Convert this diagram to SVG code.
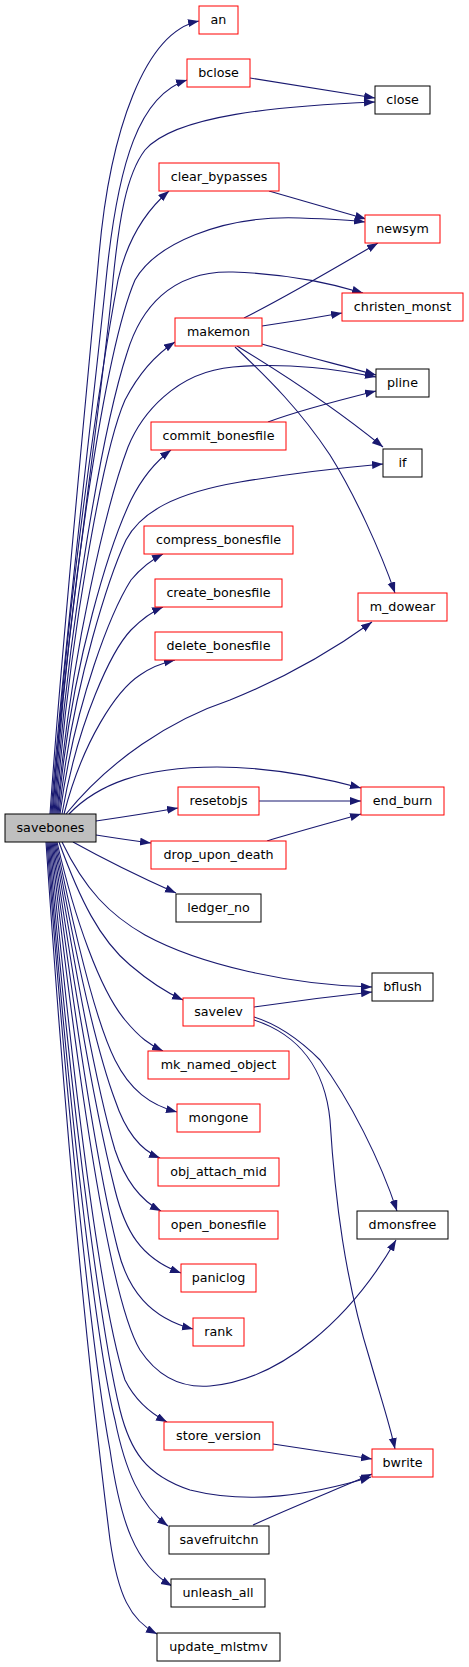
<svg xmlns="http://www.w3.org/2000/svg" width="469" height="1667" viewBox="0 0 469 1667">
<defs>
<marker id="ah" markerUnits="userSpaceOnUse" markerWidth="12" markerHeight="9" refX="11" refY="4" orient="auto" viewBox="0 0 12 9">
<path d="M0,0 L11,4 L0,8 z" fill="#191970"/>
</marker>
<style>
.e{fill:none;stroke:#191970;stroke-width:1.1;marker-end:url(#ah)}
.r{fill:#ffffff;stroke:#ff0000;stroke-width:1}
.b{fill:#ffffff;stroke:#000000;stroke-width:1}
.s{fill:#bfbfbf;stroke:#000000;stroke-width:1}
text{font-family:"DejaVu Sans","Liberation Sans",sans-serif;font-size:12.7px;fill:#000;text-anchor:middle}
</style>
</defs>
<rect width="469" height="1667" fill="#ffffff"/>
<g id="edges">
<path class="e" d="M50,814 C62,640 88,380 99,255 S145,32 199,21"/>
<path class="e" d="M51,814 C63,650 94,400 106,280 S140,95 187,80"/>
<path class="e" d="M52,814 C64,650 102,400 113,280 C119,220 126,175 145,150 C175,115 280,106 375,102"/>
<path class="e" d="M53,814 C66,600 103,360 118,280 C126,245 141,215 169,191"/>
<path class="e" d="M54,814 C68,600 105,350 135,280 C155,245 220,215 300,218 C330,219 350,220 365,222"/>
<path class="e" d="M55,814 C68,620 105,420 127,353 C140,310 170,270 233,272 C290,274 330,283 363,293"/>
<path class="e" d="M56,814 C69,640 103,450 125,400 C138,375 155,355 175,342"/>
<path class="e" d="M57,814 C71,650 108,500 128,447 C141,415 175,372 233,367 C290,362 340,370 376,377"/>
<path class="e" d="M58,814 C71,660 112,540 131,500 C141,480 155,462 171,450"/>
<path class="e" d="M59,814 C73,680 112,570 126,540 C141,512 175,493 240,482 C300,472 350,467 383,464"/>
<path class="e" d="M60,814 C75,700 112,610 131,580 C141,568 151,560 163,554"/>
<path class="e" d="M62,814 C78,720 112,650 131,630 C141,620 151,612 163,607"/>
<path class="e" d="M64,814 C83,740 117,690 140,675 C150,668 162,663 175,660"/>
<path class="e" d="M66,814 C110,760 170,720 230,700 C290,676 340,645 372,622"/>
<path class="e" d="M69,814 C97,785 140,767 217,767 C270,767 320,777 361,788"/>
<path class="e" d="M96,821 C130,816 155,812 178,808"/>
<path class="e" d="M96,835 C115,838 135,841 151,843"/>
<path class="e" d="M73,842 C100,857 140,877 176,893"/>
<path class="e" d="M62,842 C85,890 110,915 145,935 C200,965 290,985 372,987"/>
<path class="e" d="M59,842 C80,900 100,940 130,965 C150,982 165,992 183,1000"/>
<path class="e" d="M57,842 C75,920 100,990 125,1020 C140,1038 150,1045 163,1051"/>
<path class="e" d="M56,842 C80,960 100,1030 115,1060 C130,1090 150,1105 177,1112"/>
<path class="e" d="M55,842 C80,980 100,1060 115,1100 C125,1130 140,1150 160,1158"/>
<path class="e" d="M54,842 C80,1000 100,1100 115,1150 C125,1180 140,1200 161,1211"/>
<path class="e" d="M53,842 C80,1030 100,1130 115,1190 C125,1230 140,1258 181,1273"/>
<path class="e" d="M52,842 C80,1060 100,1180 118,1250 C128,1290 150,1318 193,1329"/>
<path class="e" d="M51,842 C80,1100 110,1300 140,1350 C160,1380 185,1388 210,1386 C280,1380 350,1320 396,1240"/>
<path class="e" d="M50,842 C80,1150 105,1320 125,1380 C135,1400 150,1413 167,1422"/>
<path class="e" d="M49,842 C75,1150 105,1350 120,1410 C130,1450 145,1475 190,1490 C250,1505 310,1495 371,1477"/>
<path class="e" d="M48,842 C72,1150 100,1360 115,1420 C125,1470 140,1505 168,1526"/>
<path class="e" d="M47,842 C70,1150 95,1370 110,1450 C120,1520 135,1565 172,1586"/>
<path class="e" d="M46,842 C70,1200 95,1420 110,1540 C118,1595 130,1620 157,1634"/>
<path class="e" d="M250,78 C290,84 330,91 375,98"/>
<path class="e" d="M269,191 C300,200 335,210 366,219"/>
<path class="e" d="M244,318 C290,295 340,265 378,243"/>
<path class="e" d="M262,326 C290,322 320,317 342,313"/>
<path class="e" d="M262,344 C300,355 340,365 376,375"/>
<path class="e" d="M268,422 C300,410 340,400 376,391"/>
<path class="e" d="M237,346 C285,375 340,412 383,447"/>
<path class="e" d="M235,347 C270,380 300,410 330,455 C355,495 380,550 395,593"/>
<path class="e" d="M259,801 L361,801"/>
<path class="e" d="M267,841 C300,831 330,823 361,814"/>
<path class="e" d="M254,1007 C295,1001 335,996 372,992"/>
<path class="e" d="M254,1017 C280,1025 300,1040 320,1060 C350,1100 380,1160 397,1211"/>
<path class="e" d="M254,1020 C300,1035 325,1070 330,1120 C335,1200 345,1280 370,1360 C380,1395 390,1425 395,1449"/>
<path class="e" d="M273,1444 C305,1449 340,1454 372,1459"/>
<path class="e" d="M253,1525 C290,1508 335,1490 372,1474"/>
</g>
<g id="savebones"><rect class="s" x="5" y="814" width="91" height="28"/><text x="50.5" y="832">savebones</text></g>
<g id="an"><rect class="r" x="199" y="6" width="39" height="28"/><text x="218.5" y="24">an</text></g>
<g id="bclose"><rect class="r" x="187" y="59" width="63" height="28"/><text x="218.5" y="77">bclose</text></g>
<g id="clear_bypasses"><rect class="r" x="159" y="163" width="120" height="28"/><text x="219" y="181">clear_bypasses</text></g>
<g id="makemon"><rect class="r" x="175" y="318" width="87" height="28"/><text x="218.5" y="336">makemon</text></g>
<g id="commit_bonesfile"><rect class="r" x="151" y="422" width="135" height="28"/><text x="218.5" y="440">commit_bonesfile</text></g>
<g id="compress_bonesfile"><rect class="r" x="144" y="526" width="149" height="28"/><text x="218.5" y="544">compress_bonesfile</text></g>
<g id="create_bonesfile"><rect class="r" x="155" y="579" width="127" height="28"/><text x="218.5" y="597">create_bonesfile</text></g>
<g id="delete_bonesfile"><rect class="r" x="155" y="632" width="127" height="28"/><text x="218.5" y="650">delete_bonesfile</text></g>
<g id="resetobjs"><rect class="r" x="178" y="787" width="81" height="28"/><text x="218.5" y="805">resetobjs</text></g>
<g id="drop_upon_death"><rect class="r" x="151" y="841" width="135" height="28"/><text x="218.5" y="859">drop_upon_death</text></g>
<g id="ledger_no"><rect class="b" x="176" y="894" width="85" height="28"/><text x="218.5" y="912">ledger_no</text></g>
<g id="savelev"><rect class="r" x="183" y="998" width="71" height="28"/><text x="218.5" y="1016">savelev</text></g>
<g id="mk_named_object"><rect class="r" x="148" y="1051" width="141" height="28"/><text x="218.5" y="1069">mk_named_object</text></g>
<g id="mongone"><rect class="r" x="177" y="1104" width="83" height="28"/><text x="218.5" y="1122">mongone</text></g>
<g id="obj_attach_mid"><rect class="r" x="158" y="1158" width="121" height="28"/><text x="218.5" y="1176">obj_attach_mid</text></g>
<g id="open_bonesfile"><rect class="r" x="159" y="1211" width="119" height="28"/><text x="218.5" y="1229">open_bonesfile</text></g>
<g id="paniclog"><rect class="r" x="181" y="1264" width="75" height="28"/><text x="218.5" y="1282">paniclog</text></g>
<g id="rank"><rect class="r" x="193" y="1318" width="51" height="28"/><text x="218.5" y="1336">rank</text></g>
<g id="store_version"><rect class="r" x="164" y="1422" width="109" height="28"/><text x="218.5" y="1440">store_version</text></g>
<g id="savefruitchn"><rect class="b" x="169" y="1526" width="100" height="28"/><text x="219" y="1544">savefruitchn</text></g>
<g id="unleash_all"><rect class="b" x="171" y="1579" width="94" height="28"/><text x="218" y="1597">unleash_all</text></g>
<g id="update_mlstmv"><rect class="b" x="157" y="1633" width="123" height="28"/><text x="218.5" y="1651">update_mlstmv</text></g>
<g id="close"><rect class="b" x="375" y="86" width="55" height="28"/><text x="402.5" y="104">close</text></g>
<g id="newsym"><rect class="r" x="365" y="215" width="75" height="28"/><text x="402.5" y="233">newsym</text></g>
<g id="christen_monst"><rect class="r" x="342" y="293" width="121" height="28"/><text x="402.5" y="311">christen_monst</text></g>
<g id="pline"><rect class="b" x="376" y="369" width="53" height="28"/><text x="402.5" y="387">pline</text></g>
<g id="if"><rect class="b" x="383" y="449" width="39" height="28"/><text x="402.5" y="467">if</text></g>
<g id="m_dowear"><rect class="r" x="358" y="593" width="89" height="28"/><text x="402.5" y="611">m_dowear</text></g>
<g id="end_burn"><rect class="r" x="361" y="787" width="83" height="28"/><text x="402.5" y="805">end_burn</text></g>
<g id="bflush"><rect class="b" x="372" y="973" width="61" height="28"/><text x="402.5" y="991">bflush</text></g>
<g id="dmonsfree"><rect class="b" x="357" y="1211" width="91" height="28"/><text x="402.5" y="1229">dmonsfree</text></g>
<g id="bwrite"><rect class="r" x="372" y="1449" width="61" height="28"/><text x="402.5" y="1467">bwrite</text></g>
</svg>
